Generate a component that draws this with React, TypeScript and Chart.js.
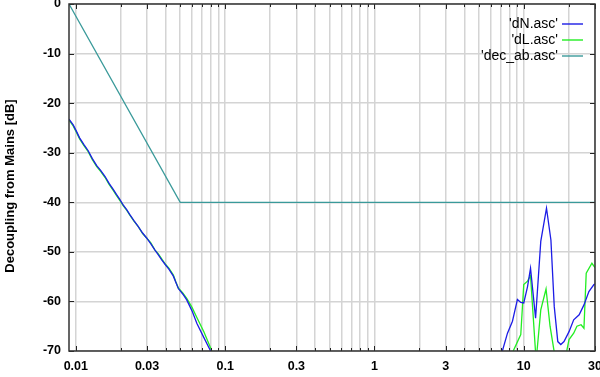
import React, { useEffect, useRef } from "react";
import { Chart, registerables } from "chart.js";

Chart.register(...registerables);

// ---- data ----
const blueLowFreq = [0.009, 0.0096, 0.0101, 0.0106, 0.0113, 0.0121, 0.0129, 0.0138, 0.0147, 0.0157, 0.0167, 0.0178, 0.0187, 0.0197, 0.0208, 0.0219, 0.023, 0.0245, 0.0262, 0.028, 0.0298, 0.0318, 0.0338, 0.0357, 0.0376, 0.0398, 0.042, 0.045, 0.0468, 0.0486, 0.052, 0.0553, 0.06, 0.0646, 0.0715, 0.0793, 0.09];
const blueLowDb = [-23.2, -24.4, -25.7, -27.0, -28.3, -29.6, -31.2, -32.6, -33.6, -34.8, -36.2, -37.4, -38.4, -39.4, -40.6, -41.5, -42.5, -43.7, -44.9, -46.2, -47.2, -48.4, -49.6, -50.6, -51.6, -52.6, -53.5, -54.9, -56.2, -57.4, -58.5, -59.7, -61.9, -64.4, -67.1, -69.8, -73.5];
const blueHighFreq = [6.5, 7.19, 7.78, 8.4, 9.07, 9.55, 10.0, 10.6, 11.1, 12.0, 13.0, 14.2, 15.2, 16.0, 16.9, 17.7, 18.6, 20.1, 21.6, 23.5, 25.3, 27.3, 29.5, 30];
const blueHighDb = [-78, -70, -66.4, -64.0, -59.6, -60.2, -60.3, -57.0, -53.3, -63.4, -47.9, -41.2, -47.6, -61.0, -68.1, -68.7, -68.1, -66.1, -63.7, -62.7, -60.7, -58.0, -56.6, -56.5];

const greenLowFreq = [0.009, 0.0096, 0.0101, 0.0106, 0.0113, 0.0121, 0.0129, 0.0138, 0.0147, 0.0157, 0.0167, 0.0178, 0.0187, 0.0197, 0.0208, 0.0219, 0.023, 0.0245, 0.0262, 0.028, 0.0298, 0.0318, 0.0338, 0.0357, 0.0376, 0.0398, 0.042, 0.045, 0.0468, 0.0486, 0.052, 0.0553, 0.06, 0.065, 0.072, 0.0815, 0.09];
const greenLowDb = [-23.4, -24.6, -25.9, -27.2, -28.5, -29.8, -31.4, -32.8, -33.8, -35.0, -36.4, -37.6, -38.6, -39.6, -40.7, -41.6, -42.6, -43.8, -44.9, -46.3, -47.2, -48.2, -49.6, -50.4, -51.4, -52.5, -53.3, -54.7, -56.1, -57.3, -58.3, -59.4, -61.2, -63.4, -66.1, -70.0, -72.5];
const greenHighFreq = [7.5, 8.5, 9.55, 10.0, 10.6, 11.1, 12.1, 13.0, 14.1, 15.0, 15.9, 17.5, 19.4, 20.1, 21.6, 22.7, 24.2, 25.3, 26.2, 28.6, 30];
const greenHighDb = [-80, -70, -66.7, -56.6, -55.9, -54.8, -72, -61.7, -57.5, -65.0, -69.7, -76, -70, -67.7, -66.4, -65.0, -64.7, -65.4, -54.3, -52.3, -53.2];

const tealFreq = [0.009, 0.05, 30];
const tealDb = [0, -40, -40];

const seriesNames = ["'dN.asc'", "'dL.asc'", "'dec_ab.asc'"];
const seriesColors = ["#1c1ce6", "#22ee22", "#3a9a9a"];

const xTickValues = [
  0.01, 0.02, 0.03, 0.04, 0.05, 0.06, 0.07, 0.08, 0.09,
  0.1, 0.2, 0.3, 0.4, 0.5, 0.6, 0.7, 0.8, 0.9,
  1, 2, 3, 4, 5, 6, 7, 8, 9,
  10, 20, 30,
];
const xLabelValues = [0.01, 0.03, 0.1, 0.3, 1, 3, 10, 30];
const xLabelTexts = ["0.01", "0.03", "0.1", "0.3", "1", "3", "10", "30"];
const yTickValues = [0, -10, -20, -30, -40, -50, -60, -70];
const yTitle = "Decoupling from Mains [dB]";

const FONT = "'Liberation Sans', Arial, Helvetica, sans-serif";

function toPoints(xs: number[], ys: number[]) {
  return xs.map((x, i) => ({ x, y: ys[i] }));
}

const framePlugin = {
  id: "gnuplotFrame",
  afterDraw(chart: any) {
    const { ctx, chartArea: a, scales } = chart;
    const xs = scales.x;
    const ys = scales.y;
    ctx.save();
    // ticks
    ctx.strokeStyle = "#222";
    ctx.lineWidth = 1;
    ctx.beginPath();
    xTickValues.forEach((v) => {
      const px = Math.round(xs.getPixelForValue(v)) + 0.5;
      const len = xLabelValues.includes(v) ? 5 : 3;
      ctx.moveTo(px, a.bottom);
      ctx.lineTo(px, a.bottom - len);
      ctx.moveTo(px, a.top);
      ctx.lineTo(px, a.top + len);
    });
    yTickValues.forEach((v) => {
      const py = Math.round(ys.getPixelForValue(v)) + 0.5;
      ctx.moveTo(a.left, py);
      ctx.lineTo(a.left + 5, py);
      ctx.moveTo(a.right, py);
      ctx.lineTo(a.right - 5, py);
    });
    ctx.stroke();
    // border
    ctx.strokeStyle = "#333";
    ctx.lineWidth = 1.5;
    ctx.strokeRect(a.left, a.top, a.right - a.left, a.bottom - a.top);

    // legend
    ctx.font = "14px " + FONT;
    ctx.textAlign = "right";
    ctx.textBaseline = "middle";
    seriesNames.forEach((name, i) => {
      const y = 24 + i * 16;
      ctx.fillStyle = "#000";
      ctx.fillText(name, 558, y);
      ctx.strokeStyle = seriesColors[i];
      ctx.lineWidth = 1.4;
      ctx.beginPath();
      ctx.moveTo(562, y);
      ctx.lineTo(583, y);
      ctx.stroke();
    });

    // y title
    ctx.translate(10, 186);
    ctx.rotate(-Math.PI / 2);
    ctx.font = "bold 13px " + FONT;
    ctx.textAlign = "center";
    ctx.textBaseline = "middle";
    ctx.fillStyle = "#000";
    ctx.fillText(yTitle, 0, 0);
    ctx.restore();
  },
};

const bgPlugin = {
  id: "whiteBg",
  beforeDraw(chart: any) {
    const { ctx, width, height } = chart;
    ctx.save();
    ctx.fillStyle = "#fff";
    ctx.fillRect(0, 0, width, height);
    ctx.restore();
  },
};

export default function App() {
  const ref = useRef<HTMLCanvasElement | null>(null);
  useEffect(() => {
    if (!ref.current) return;
    const lineDs = (label: string, data: any[], color: string) => ({
      label,
      data,
      borderColor: color,
      backgroundColor: color,
      borderWidth: 1.3,
      pointRadius: 0,
      tension: 0,
      fill: false,
    });
    const chart = new Chart(ref.current, {
      type: "line",
      data: {
        datasets: [
          lineDs(seriesNames[0], toPoints(blueLowFreq.concat(blueHighFreq), blueLowDb.concat(blueHighDb)), seriesColors[0]),
          lineDs(seriesNames[1], toPoints(greenLowFreq.concat(greenHighFreq), greenLowDb.concat(greenHighDb)), seriesColors[1]),
          lineDs(seriesNames[2], toPoints(tealFreq, tealDb), seriesColors[2]),
        ],
      },
      options: {
        animation: false,
        responsive: true,
        maintainAspectRatio: false,
        layout: { padding: { top: 4, right: 5, left: 0, bottom: 0 } },
        plugins: { legend: { display: false }, tooltip: { enabled: false } },
        scales: {
          x: {
            type: "logarithmic",
            min: 0.009,
            max: 30,
            border: { display: false },
            grid: { color: "#d4d4d4", lineWidth: 1.5, drawTicks: false },
            afterBuildTicks: (s: any) => {
              s.ticks = xTickValues.map((v) => ({ value: v }));
            },
            afterFit: (s: any) => {
              s.height = 26;
              s.paddingLeft = 0;
              s.paddingRight = 0;
            },
            ticks: {
              autoSkip: false,
              maxRotation: 0,
              minRotation: 0,
              padding: 8,
              color: "#000",
              font: { family: FONT, size: 12.5, weight: "bold" },
              callback: (value: any) => {
                const idx = xLabelValues.findIndex((v) => Math.abs(v - Number(value)) < 1e-9);
                return idx >= 0 ? xLabelTexts[idx] : "";
              },
            },
          },
          y: {
            type: "linear",
            min: -70,
            max: 0,
            border: { display: false },
            grid: { color: "#d4d4d4", lineWidth: 1.5, drawTicks: false },
            afterBuildTicks: (s: any) => {
              s.ticks = yTickValues.map((v) => ({ value: v }));
            },
            afterFit: (s: any) => {
              s.width = 69;
              s.paddingTop = 0;
              s.paddingBottom = 0;
            },
            ticks: {
              padding: 8,
              color: "#000",
              font: { family: FONT, size: 12.5, weight: "bold" },
              callback: (value: any) => String(value),
            },
          },
        },
      },
      plugins: [bgPlugin, framePlugin],
    });
    return () => chart.destroy();
  }, []);
  return (
    <div style={{ position: "fixed", left: 0, top: 0, width: 600, height: 377, background: "#fff" }}>
      <canvas ref={ref} />
    </div>
  );
}
